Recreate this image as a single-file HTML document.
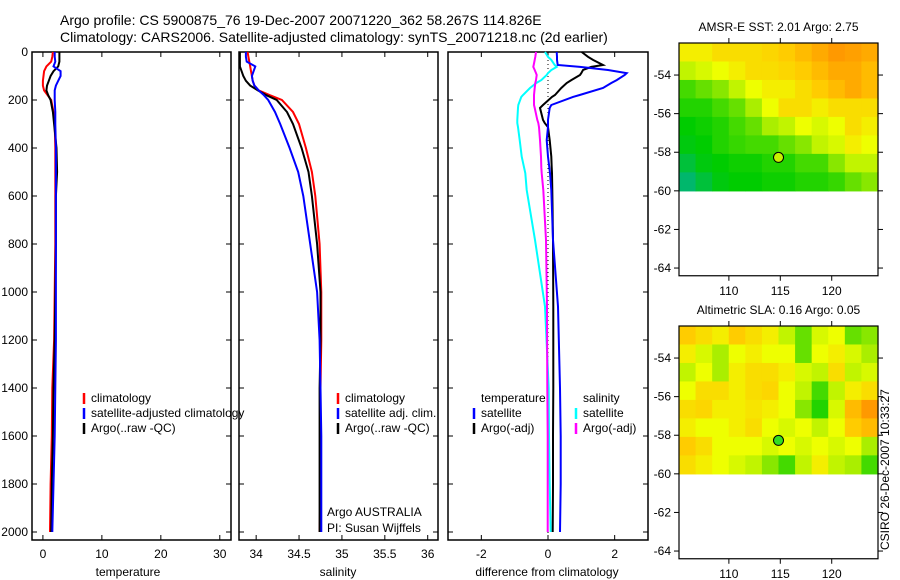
<!DOCTYPE html>
<html><head><meta charset="utf-8"><style>
body{margin:0;background:#fff;}
svg{display:block;font-family:"Liberation Sans",sans-serif;}
text{fill:#000;}
</style></head><body>
<svg id="c" width="900" height="580" xmlns="http://www.w3.org/2000/svg">
<text x="60" y="25" font-size="14">Argo profile: CS 5900875_76 19-Dec-2007 20071220_362 58.267S 114.826E</text>
<text x="60" y="42" font-size="14">Climatology: CARS2006. Satellite-adjusted climatology: synTS_20071218.nc (2d earlier)</text>
<text transform="translate(889,550) rotate(-90)" font-size="12">CSIRO 26-Dec-2007 10:33:27</text>
</svg>
<script>
const depths=[0,20,40,60,80,100,120,140,160,180,200,250,300,400,500,600,800,1000,1200,1400,1600,1800,2000];
const tempClim=[1.7,1.6,1.4,0.6,0.2,0.1,0,0,0.2,0.8,1.4,1.8,2.0,2.1,2.1,2.1,2.1,2.0,1.9,1.6,1.5,1.3,1.2];
const tempSat=[2.0,2.0,2.1,1.8,3.0,3.0,2.6,2.2,2.0,2.0,2.0,2.1,2.1,2.2,2.2,2.2,2.2,2.2,2.2,2.1,2.0,1.8,1.6];
const tempArgo=[2.8,2.8,2.8,2.6,1.8,1.3,1.0,0.7,0.6,0.9,1.3,1.7,1.9,2.3,2.4,2.2,2.2,2.1,2.0,1.8,1.7,1.5,1.4];
const salClim=[33.90,33.91,33.92,33.93,33.94,33.95,33.96,33.98,34.03,34.16,34.30,34.43,34.50,34.58,34.65,34.69,34.74,34.76,34.76,34.75,34.75,34.75,34.74];
const salSat=[33.88,33.88,33.89,33.99,33.97,33.95,33.96,33.98,34.03,34.09,34.14,34.22,34.28,34.39,34.49,34.55,34.63,34.71,34.74,34.75,34.76,34.76,34.76];
const salArgo=[33.81,33.81,33.81,33.81,33.83,33.85,33.88,33.93,34.02,34.12,34.24,34.36,34.43,34.53,34.61,34.65,34.71,34.75,34.75,34.74,34.74,34.74,34.74];
const diffDepths=[0,20,33,54,62,75,88,96,117,129,150,179,187,221,233,283,296,313,367,436,480,505,575,783,1061,1400,1600,1800,2000];
const dTempSat=[0.26,0.27,0.27,0.29,0.96,1.8,2.36,2.3,2.06,1.9,1.65,0.95,0.75,0.1,0.05,0.0,0.0,0.0,-0.04,0.0,0.04,0.06,0.1,0.15,0.3,0.36,0.38,0.38,0.36];
const dTempArgo=[1.01,1.2,1.35,1.65,1.3,1.05,1.0,0.96,0.7,0.56,0.4,0.21,0.12,-0.15,-0.24,-0.15,-0.1,0.0,0.05,0.1,0.11,0.12,0.13,0.15,0.16,0.16,0.15,0.15,0.14];
const dSalSat=[-0.09,0,0.1,0.2,0.26,0.1,0.0,-0.04,-0.2,-0.35,-0.54,-0.75,-0.8,-0.89,-0.9,-0.92,-0.92,-0.9,-0.85,-0.79,-0.72,-0.68,-0.64,-0.39,-0.09,0.02,0.03,0.05,0.08];
const dSalArgo=[-0.36,-0.38,-0.4,-0.43,-0.44,-0.4,-0.36,-0.34,-0.36,-0.38,-0.4,-0.42,-0.42,-0.42,-0.4,-0.32,-0.29,-0.27,-0.24,-0.21,-0.2,-0.19,-0.14,-0.06,-0.03,-0.02,-0.01,-0.01,-0.01];
const depthTicks=[0,200,400,600,800,1000,1200,1400,1600,1800,2000];
const tempTicks=[0,10,20,30];
const salTicks=[34,34.5,35,35.5,36];
const salTickLabels=["34","34.5","35","35.5","36"];
const diffTicks=[-2,0,2];
const lonTicks=[110,115,120];
const latTicks=[-54,-56,-58,-60,-62,-64];
const sstGrid=[
[0.65,0.65,0.7,0.7,0.7,0.72,0.75,0.8,0.85,0.9,0.88,0.85],
[0.5,0.55,0.6,0.65,0.7,0.7,0.72,0.75,0.8,0.85,0.85,0.8],
[0.3,0.35,0.4,0.5,0.6,0.65,0.65,0.7,0.75,0.8,0.85,0.8],
[0.25,0.25,0.3,0.35,0.45,0.6,0.7,0.7,0.65,0.7,0.7,0.7],
[0.2,0.22,0.25,0.3,0.35,0.45,0.5,0.6,0.55,0.6,0.7,0.65],
[0.18,0.2,0.25,0.28,0.3,0.3,0.35,0.4,0.5,0.55,0.65,0.6],
[0.12,0.18,0.2,0.22,0.22,0.25,0.25,0.3,0.3,0.4,0.5,0.5],
[0.05,0.12,0.18,0.2,0.2,0.22,0.22,0.25,0.25,0.28,0.35,0.4]];
const slaGrid=[
[0.75,0.7,0.65,0.75,0.7,0.65,0.5,0.35,0.55,0.6,0.35,0.4],
[0.65,0.55,0.45,0.6,0.65,0.6,0.6,0.35,0.6,0.65,0.55,0.45],
[0.5,0.6,0.45,0.65,0.7,0.7,0.65,0.55,0.5,0.7,0.5,0.55],
[0.6,0.7,0.7,0.65,0.7,0.72,0.6,0.5,0.3,0.5,0.65,0.7],
[0.7,0.72,0.65,0.65,0.68,0.65,0.6,0.4,0.25,0.55,0.8,0.9],
[0.65,0.6,0.6,0.65,0.7,0.6,0.55,0.6,0.5,0.6,0.75,0.8],
[0.75,0.7,0.6,0.6,0.6,0.55,0.6,0.55,0.6,0.55,0.6,0.45],
[0.7,0.65,0.6,0.55,0.5,0.4,0.3,0.5,0.65,0.5,0.45,0.3]];
const argoLon=114.826, argoLat=-58.267;

const svg=document.getElementById('c');
const NS="http://www.w3.org/2000/svg";
function mk(tag,attrs,parent){const e=document.createElementNS(NS,tag);for(const k in attrs)e.setAttribute(k,attrs[k]);(parent||svg).appendChild(e);return e;}
function txt(x,y,s,size,anchor){const t=mk('text',{x:x,y:y,'font-size':size||12,'text-anchor':anchor||'start'});t.textContent=s;return t;}

const TOP=52, BOT=540;
const yD=d=>TOP+d*0.24;
function panel(x0,x1,xmin,xmax,name){
  const xs=v=>x0+(v-xmin)/(xmax-xmin)*(x1-x0);
  const r=mk('rect',{x:x0,y:TOP,width:x1-x0,height:BOT-TOP,fill:'none',stroke:'#000','stroke-width':1.5});
  
  
  return xs;
}
function ticksX(xs,vals,labels,name){
  vals.forEach((v,i)=>{const x=xs(v);
    mk('line',{x1:x,x2:x,y1:TOP,y2:TOP+5,stroke:'#000'});
    mk('line',{x1:x,x2:x,y1:BOT,y2:BOT-5,stroke:'#000'});
    const t=txt(x,558,labels?labels[i]:String(v),12,'middle');
    
    
  });
}
function ticksY(x0,x1,label){
  depthTicks.forEach(d=>{const y=yD(d);
    mk('line',{x1:x0,x2:x0+5,y1:y,y2:y,stroke:'#000'});
    mk('line',{x1:x1,x2:x1-5,y1:y,y2:y,stroke:'#000'});
    if(label){const t=txt(28,y+4,String(d),12,'end');
      
      }
  });
}
function line(xs,vals,dep,color,name){
  const pts=vals.map((v,i)=>xs(v).toFixed(1)+','+yD(dep[i]).toFixed(1)).join(' ');
  const p=mk('polyline',{points:pts,fill:'none',stroke:color,'stroke-width':2});
  
  
}
function leg(x,y,color,label,name){
  mk('line',{x1:x,x2:x,y1:y-9,y2:y+2,stroke:color,'stroke-width':2.5});
  const t=txt(x+7,y,label,12);
  
  
}

// Panel 1 temperature
const xT=panel(32,231,-1.85,31.9,'temperature-panel');
ticksY(32,231,true);ticksX(xT,tempTicks,null,'temperature-x');
line(xT,tempClim,depths,'#f00','temp-climatology-line');
line(xT,tempArgo,depths,'#000','temp-argo-line');
line(xT,tempSat,depths,'#00f','temp-satellite-line');
let t=txt(128,576,'temperature',12,'middle');


leg(84,402,'#f00','climatology','legend-climatology');
leg(84,417,'#00f','satellite-adjusted climatology','legend-satellite');
leg(84,432,'#000','Argo(..raw -QC)','legend-argo');

// Panel 2 salinity
const xS=panel(239,438,33.8,36.12,'salinity-panel');
ticksY(239,438,false);ticksX(xS,salTicks,salTickLabels,'salinity-x');
line(xS,salClim,depths,'#f00','sal-climatology-line');
line(xS,salArgo,depths,'#000','sal-argo-line');
line(xS,salSat,depths,'#00f','sal-satellite-line');
t=txt(338,576,'salinity',12,'middle');


leg(338,402,'#f00','climatology','legend-sal-climatology');
leg(338,417,'#00f','satellite adj. clim.','legend-sal-satellite');
leg(338,432,'#000','Argo(..raw -QC)','legend-sal-argo');
t=txt(327,516,'Argo AUSTRALIA',12);


t=txt(327,532,'PI: Susan Wijffels',12);



// Panel 3 difference
const xDf=panel(448,648,-3.0,3.0,'difference-panel');
ticksY(448,648,false);ticksX(xDf,diffTicks,null,'difference-x');
mk('line',{x1:xDf(0),x2:xDf(0),y1:TOP,y2:BOT,stroke:'#000','stroke-dasharray':'1,3'});
line(xDf,dSalSat,diffDepths,'#0ff','diff-sal-satellite-line');
line(xDf,dSalArgo,diffDepths,'#f0f','diff-sal-argo-line');
line(xDf,dTempArgo,diffDepths,'#000','diff-temp-argo-line');
line(xDf,dTempSat,diffDepths,'#00f','diff-temp-satellite-line');
t=txt(547,576,'difference from climatology',12,'middle');


t=txt(481,402,'temperature',12);


t=txt(583,402,'salinity',12);


leg(474,417,'#00f','satellite','legend-diff-temp-satellite');
leg(474,432,'#000','Argo(-adj)','legend-diff-temp-argo');
leg(576,417,'#0ff','satellite','legend-diff-sal-satellite');
leg(576,432,'#f0f','Argo(-adj)','legend-diff-sal-argo');

// Maps
const stops=[[0,[0,176,144]],[0.2,[0,204,0]],[0.45,[170,238,0]],[0.6,[238,255,0]],[0.75,[255,204,0]],[0.9,[255,153,0]],[1,[238,102,0]]];
function col(v){for(let i=1;i<stops.length;i++){if(v<=stops[i][0]){const a=stops[i-1],b=stops[i];const f=(v-a[0])/(b[0]-a[0]);return 'rgb('+a[1].map((c,j)=>Math.round(c+(b[1][j]-c)*f)).join(',')+')';}}return 'rgb(238,102,0)';}
function map(top,grid,title,dotColor,name){
  const x0=679,x1=878,lon0=105.15,lon1=124.5,latTop=-52.34,ppd=19.3;
  const xm=l=>x0+(l-lon0)/(lon1-lon0)*(x1-x0);
  const ym=la=>top+(latTop-la)*ppd;
  const bottom=ym(-64.4);
  const rows=grid.length, cols=grid[0].length;
  const dLon=(lon1-lon0)/cols, dLat=(latTop+60)/rows;
  grid.forEach((row,r)=>row.forEach((v,c)=>{
    const cell=mk('rect',{x:xm(lon0+c*dLon),y:ym(latTop-r*dLat),width:(x1-x0)/cols+0.6,height:dLat*ppd+0.6,fill:col(v)});
    
    
  }));
  const fr=mk('rect',{x:x0,y:top,width:x1-x0,height:bottom-top,fill:'none',stroke:'#000','stroke-width':1.2});
  
  
  lonTicks.forEach(l=>{const x=xm(l);
    mk('line',{x1:x,x2:x,y1:top-5,y2:top,stroke:'#000'});
    mk('line',{x1:x,x2:x,y1:bottom,y2:bottom+5,stroke:'#000'});
    const tl=txt(x,bottom+19,String(l),12,'middle');
    
    });
  latTicks.forEach(la=>{const y=ym(la);
    mk('line',{x1:x0-5,x2:x0,y1:y,y2:y,stroke:'#000'});
    mk('line',{x1:x1,x2:x1+5,y1:y,y2:y,stroke:'#000'});
    const tl=txt(x0-8,y+4,String(la),12,'end');
    
    });
  const d=mk('circle',{cx:xm(argoLon),cy:ym(argoLat),r:5,fill:dotColor,stroke:'#000'});
  
  
  const tt=txt((x0+x1)/2,top-12,title,12,'middle');
  
  
}
map(43,sstGrid,'AMSR-E SST: 2.01 Argo: 2.75','#c8f000','sst-map');
map(326,slaGrid,'Altimetric SLA: 0.16 Argo: 0.05','#33dd22','sla-map');
</script>
</body></html>
